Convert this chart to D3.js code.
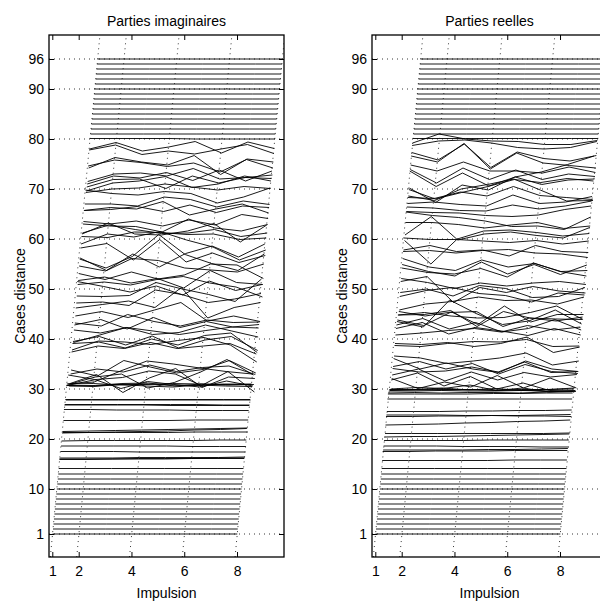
<!DOCTYPE html>
<html><head><meta charset="utf-8">
<script src="https://cdn.jsdelivr.net/npm/d3@7"></script>
<style>
html,body{margin:0;padding:0;background:#fff;}
text{font-family:"Liberation Sans",Arial,Helvetica,sans-serif;font-size:14px;fill:#000;}
</style></head>
<body><svg id="chart" width="600" height="604"></svg>
<script>
// ---------- data ----------
const pulses = [1, 2, 3, 4, 5, 6, 7, 8];
const xTickValues = [1, 2, 4, 6, 8];
const yTickValues = [1, 10, 20, 30, 40, 50, 60, 70, 80, 90, 96];
const panelTitles = ["Parties imaginaires", "Parties reelles"];
const xLabel = "Impulsion";
const yLabel = "Cases distance";

// one row per range cell (1..96), one value per pulse (displayed level)
const imagLines = [
[1,1,1,1,1,1,1,1],[2,2,2,2,2,2,2,2],[3,3,3,3,3,3,3,3],[4,4,4,4,4,4,4,4],
[5,5,5,5,5,5,5,5],[6,6,6,6,6,6,6,6],[7,7,7,7,7,7,7,7],[8,8,8,8,8,8,8,8],
[9,9,9,9,9,9,9,9],[10,10,10,10,10,10,10,10],[11,11,11,11,11,11,11,11],[12,12,12,12,12,12,12,12],
[13,13,13,13,13,13,13,13],[14.1,14.1,14.1,14.1,14.1,14.1,14.1,14.1],
[16.0,16.0,16.0,16.1,16.1,16.1,16.2,16.2],
[15.9,15.9,16.0,16.0,16.0,16.1,16.1,16.1],
[16.2,16.2,16.2,16.3,16.3,16.3,16.3,16.4],
[17.5,17.5,17.5,17.4,17.4,17.4,17.4,17.4],
[18.6,18.6,18.6,18.6,18.6,18.5,18.5,18.5],
[19.6,19.7,19.7,19.7,19.7,19.7,19.8,19.8],
[21.2,21.3,21.4,21.5,21.6,21.8,21.9,22.1],
[21.5,21.6,21.7,21.8,21.9,22.0,22.1,22.2],
[21.3,21.3,21.3,21.3,21.3,21.4,21.4,21.4],
[23.7,23.7,23.7,23.7,23.7,23.8,23.8,23.8],
[25.9,25.9,25.8,25.8,25.8,25.7,25.7,25.7],
[26.8,26.8,26.8,26.8,26.7,26.7,26.7,26.7],
[26.9,26.9,26.9,26.9,26.9,26.9,26.8,26.8],
[27.9,27.9,27.9,27.9,27.9,27.9,27.9,27.9],
[27.8,27.8,27.8,27.8,27.8,27.8,27.8,27.8],
[30.7,30.6,30.9,31.0,30.8,30.7,31.0,30.9],
[31.0,31.1,30.8,30.9,31.1,31.0,30.9,31.0],
[30.7,30.5,30.9,30.6,30.4,30.8,30.6,30.5],
[31.0,31.4,33.6,35.6,35.0,34.2,33.5,33.0],
[32.8,31.9,30.1,31.5,30.9,30.4,31.6,30.6],
[30.9,32.4,33.0,30.2,31.3,33.4,35.9,32.8],
[30.6,30.7,31.1,31.2,30.6,31.0,30.8,30.9],
[30.8,31.9,32.3,33.6,33.0,30.7,33.5,29.4],
[31.1,32.9,29.3,32.2,34.1,30.3,32.4,32.1],
[33.0,34.0,33.4,34.8,33.5,34.3,34.6,32.9],
[33.8,32.6,35.7,34.4,33.2,33.9,35.7,33.2],
[37.4,38.6,38.1,39.3,38.1,38.6,39.1,37.0],
[37.8,39.6,39.4,38.9,39.7,40.3,38.8,35.4],
[39.1,39.4,38.2,40.0,38.8,40.7,41.2,37.3],
[39.5,40.5,38.8,40.6,38.2,39.8,40.5,37.7],
[39.3,40.8,42.3,40.9,41.3,42.8,41.6,40.4],
[41.8,41.2,42.3,41.6,40.9,41.7,42.4,42.2],
[42.8,43.9,42.0,44.3,42.3,43.5,42.4,42.9],
[43.2,42.6,44.9,43.5,42.6,43.8,43.3,43.4],
[44.6,45.5,44.3,45.8,47.3,43.6,44.6,43.5],
[46.2,46.9,47.6,46.3,50.3,44.2,46.3,47.3],
[47.2,47.4,46.7,49.8,48.9,47.3,48.0,49.1],
[48.6,48.5,48.7,51.3,50.0,48.9,47.5,52.0],
[51.5,50.5,49.4,50.6,48.8,51.6,49.7,50.9],
[50.9,51.4,50.8,51.9,52.5,51.2,50.4,48.4],
[51.7,52.4,51.2,52.1,50.2,53.7,51.3,50.9],
[53.1,51.9,53.4,52.0,52.8,55.0,54.8,52.1],
[54.6,53.6,56.1,55.7,54.2,53.8,53.4,55.0],
[56.0,54.2,56.5,60.9,56.9,55.1,53.7,57.0],
[56.2,53.7,57.0,54.4,57.1,58.6,56.4,59.0],
[58.2,59.1,55.8,59.9,55.4,57.2,55.3,56.7],
[59.0,61.0,60.4,61.5,59.8,58.4,55.8,57.8],
[60.5,60.3,61.4,61.3,60.9,61.0,59.9,60.2],
[61.0,63.2,61.0,60.8,61.6,63.1,59.4,62.8],
[61.2,62.8,61.9,61.1,61.2,61.9,60.5,61.2],
[63.0,62.6,62.5,61.4,64.0,62.2,61.6,62.9],
[63.5,63.0,63.6,62.6,63.8,62.8,64.9,64.1],
[65.7,66.3,66.0,67.5,64.8,66.0,67.0,65.2],
[65.7,65.9,66.5,65.5,66.8,65.3,66.6,66.3],
[67.0,67.0,66.6,68.4,67.9,66.4,67.6,66.9],
[69.8,69.1,68.8,69.5,69.1,67.2,68.4,70.2],
[69.3,70.0,70.2,71.0,70.4,69.8,70.5,70.1],
[69.6,71.2,71.6,72.5,70.3,71.0,72.6,71.6],
[70.4,71.9,72.0,70.1,72.6,71.2,72.3,72.1],
[71.0,72.6,72.2,73.3,71.7,73.8,71.6,73.6],
[71.5,73.0,73.2,72.6,74.1,72.0,72.3,72.8],
[74.6,75.8,75.3,74.5,75.2,73.4,75.9,74.2],
[74.2,76.3,75.4,74.8,76.7,72.9,76.0,75.4],
[77.8,78.8,76.9,77.6,77.0,78.0,78.9,77.1],
[78.0,79.3,77.6,78.4,79.5,77.2,79.4,78.1],
[80.1,80.1,80.1,80.1,80.0,80.0,80.0,80.0],
[81,81,81,81,81,81,81,81],[82,82,82,82,82,82,82,82],[83,83,83,83,83,83,83,83],
[84,84,84,84,84,84,84,84],[85,85,85,85,85,85,85,85],[86,86,86,86,86,86,86,86],
[87,87,87,87,87,87,87,87],[88,88,88,88,88,88,88,88],[89,89,89,89,89,89,89,89],
[90,90,90,90,90,90,90,90],[91,91,91,91,91,91,91,91],[92,92,92,92,92,92,92,92],
[93,93,93,93,93,93,93,93],[94,94,94,94,94,94,94,94],[95,95,95,95,95,95,95,95],
[96,96,96,96,96,96,96,96]
];

const realLines = [
[1,1,1,1,1,1,1,1],[2,2,2,2,2,2,2,2],[3,3,3,3,3,3,3,3],[4,4,4,4,4,4,4,4],
[5,5,5,5,5,5,5,5],[6,6,6,6,6,6,6,6],[7,7,7,7,7,7,7,7],[8,8,8,8,8,8,8,8],
[9,9,9,9,9,9,9,9],[10,10,10,10,10,10,10,10],[11,11,11,11,11,11,11,11],[12,12,12,12,12,12,12,12],
[13,13,13,13,13,13,13,13],[14.1,14.1,14.1,14.1,14.1,14.1,14.1,14.1],
[15.7,15.7,15.7,15.7,15.7,15.8,15.8,15.8],
[17.5,17.5,17.6,17.6,17.6,17.7,17.7,17.7],
[17.8,17.8,17.8,17.8,17.9,17.9,18.0,18.1],
[18.6,18.6,18.6,18.5,18.5,18.5,18.4,18.4],
[19.7,19.7,19.7,19.7,19.8,19.8,19.8,19.8],
[20.4,20.5,20.5,20.6,20.7,20.8,20.9,21.0],
[21.1,21.1,21.1,21.1,21.1,21.1,21.1,21.2],
[22.8,22.9,23.0,23.2,23.3,23.5,23.6,23.8],
[24.5,24.5,24.6,24.6,24.7,24.7,24.8,24.9],
[24.8,24.8,24.8,24.7,24.7,24.6,24.6,24.5],
[25.5,25.5,25.5,25.6,25.6,25.7,25.7,25.8],
[28.0,28.0,28.0,28.0,28.0,28.0,28.0,28.0],
[29.0,29.0,29.0,29.0,29.1,29.1,29.2,29.2],
[29.2,29.3,29.2,29.3,29.3,29.2,29.4,29.5],
[29.6,29.6,29.7,29.6,29.6,29.7,29.6,29.6],
[29.9,29.9,29.8,29.9,29.8,29.9,29.9,30.0],
[29.7,29.9,30.2,29.8,30.1,29.7,29.9,30.2],
[29.8,29.8,29.9,29.9,29.7,29.8,29.5,29.6],
[30.0,30.3,30.1,30.8,29.7,30.2,29.4,29.7],
[31.8,33.2,30.6,32.5,30.0,31.2,29.7,29.5],
[32.1,30.1,31.4,30.4,32.7,30.2,32.2,30.2],
[32.8,34.0,31.6,33.4,31.8,33.3,32.4,32.9],
[34.1,33.4,33.6,34.4,33.4,35.4,33.3,33.5],
[34.5,35.5,34.0,35.1,33.0,34.9,33.5,33.1],
[36.1,34.0,35.2,34.0,33.3,35.6,34.0,33.5],
[36.6,36.2,35.1,35.6,36.2,37.2,34.8,35.6],
[38.7,38.5,39.1,39.5,39.4,39.9,38.5,38.6],
[39.1,38.9,39.3,38.5,39.1,40.4,37.3,38.4],
[40.8,41.2,41.7,42.1,41.4,42.7,41.8,42.4],
[42.1,43.3,41.0,42.3,41.6,40.7,42.1,40.8],
[42.8,44.1,42.0,43.3,41.4,42.1,43.9,41.8],
[43.5,42.4,47.8,45.1,42.9,43.6,45.8,43.0],
[43.8,42.7,45.3,45.5,42.5,44.2,44.0,43.9],
[44.8,44.9,45.7,42.5,45.5,44.2,43.6,44.4],
[44.8,45.3,44.6,44.2,44.3,45.3,46.6,43.9],
[45.5,44.6,45.4,42.9,46.6,43.4,44.9,44.9],
[45.8,47.0,47.5,48.4,47.7,47.8,47.0,48.4],
[48.5,49.7,50.3,49.1,48.7,47.4,49.2,48.8],
[49.3,50.0,48.6,50.7,50.1,48.3,48.5,50.3],
[51.5,52.5,47.3,50.3,49.3,50.5,49.6,49.2],
[52.1,51.3,50.1,51.2,50.6,51.2,51.5,50.9],
[54.2,53.3,53.0,54.1,52.4,55.2,53.5,52.6],
[54.9,53.5,52.6,55.4,53.0,54.9,52.9,54.8],
[56.1,54.4,53.7,55.8,54.4,55.1,53.5,53.7],
[57.5,57.7,57.2,57.7,57.9,57.2,57.0,56.3],
[57.8,58.7,57.5,57.8,56.6,58.7,57.5,57.3],
[60.2,59.9,59.9,59.6,59.3,59.7,59.0,59.6],
[59.7,55.0,60.0,61.6,61.8,61.3,60.6,61.1],
[60.8,64.5,59.8,61.0,61.4,60.7,60.2,62.3],
[63.3,63.3,62.9,62.2,62.8,63.3,62.1,62.6],
[65.4,64.7,64.3,63.6,62.5,62.6,61.9,64.4],
[65.5,65.3,65.2,64.7,64.5,64.8,65.9,66.6],
[66.4,66.2,65.7,65.6,66.8,66.0,66.6,67.6],
[67.1,67.4,66.9,66.6,68.8,67.1,67.4,68.5],
[68.3,68.1,69.4,68.6,70.5,68.7,68.3,67.9],
[68.6,67.7,70.0,70.9,72.0,69.8,67.6,67.7],
[69.9,68.0,69.3,70.5,71.9,71.3,72.1,71.6],
[70.2,67.3,70.8,69.8,72.4,73.4,74.9,76.6],
[73.6,70.5,73.2,70.6,72.4,70.9,71.8,72.0],
[73.9,71.2,74.2,71.9,73.8,71.9,73.0,72.5],
[74.8,73.6,75.4,73.6,73.6,73.2,74.4,73.3],
[76.6,75.4,79.1,74.0,77.2,75.2,74.7,74.2],
[77.3,75.8,79.0,74.3,77.4,76.1,75.6,76.7],
[78.7,79.6,79.8,79.2,78.3,78.0,78.3,79.5],
[79.2,81.0,80.0,79.6,79.5,78.9,78.9,79.7],
[80.1,80.1,80.1,80.1,80.1,80.1,80.1,80.1],
[81,81,81,81,81,81,81,81],[82,82,82,82,82,82,82,82],[83,83,83,83,83,83,83,83],
[84,84,84,84,84,84,84,84],[85,85,85,85,85,85,85,85],[86,86,86,86,86,86,86,86],
[87,87,87,87,87,87,87,87],[88,88,88,88,88,88,88,88],[89,89,89,89,89,89,89,89],
[90,90,90,90,90,90,90,90],[91,91,91,91,91,91,91,91],[92,92,92,92,92,92,92,92],
[93,93,93,93,93,93,93,93],[94,94,94,94,94,94,94,94],[95,95,95,95,95,95,95,95],
[96,96,96,96,96,96,96,96]
];

// ---------- drawing ----------
const svg = d3.select("#chart");
const skew = 0.018;            // horizontal drift of the 3-D view per range cell
const xDomain = [0.875, 9.78];
const yDomain = [-3.6, 100.8];
const panels = [
  {title: panelTitles[0], lines: imagLines, left: 49, labelX: 25},
  {title: panelTitles[1], lines: realLines, left: 372, labelX: 347}
];
const plotTop = 35, plotBottom = 557, plotW = 235;
const fontFamily = '"Liberation Sans",Arial,sans-serif';

panels.forEach((p, pi) => {
  const x = d3.scaleLinear().domain(xDomain).range([p.left, p.left + plotW]);
  const y = d3.scaleLinear().domain(yDomain).range([plotBottom, plotTop]);
  const g = svg.append("g");
  const clipId = "clip" + pi;
  svg.append("clipPath").attr("id", clipId).append("rect")
    .attr("x", p.left).attr("y", plotTop).attr("width", plotW).attr("height", plotBottom - plotTop);
  const plot = g.append("g").attr("clip-path", `url(#${clipId})`);

  plot.selectAll(".hg").data(yTickValues).join("line")
    .attr("x1", p.left).attr("x2", p.left + plotW)
    .attr("y1", d => y(d)).attr("y2", d => y(d))
    .attr("stroke", "#000").attr("stroke-width", 0.8).attr("stroke-dasharray", "1,4");
  plot.selectAll(".vg").data(xTickValues).join("line")
    .attr("x1", d => x(d + skew * (yDomain[0] - 0.5))).attr("y1", y(yDomain[0]))
    .attr("x2", d => x(d + skew * (yDomain[1] - 0.5))).attr("y2", y(yDomain[1]))
    .attr("stroke", "#000").attr("stroke-width", 0.8).attr("stroke-dasharray", "1,4");

  plot.selectAll(".ln").data(p.lines).join("path")
    .attr("fill", "none").attr("stroke", "#000").attr("stroke-width", 0.9)
    .attr("d", (row, ci) => d3.line()
      .x((v, i) => x(pulses[i] + skew * (ci + 1 - 0.5)))
      .y(v => y(v))(row));

  const ax = g.append("g").attr("transform", `translate(${p.left},0)`)
    .call(d3.axisLeft(y).tickValues(yTickValues).tickSize(-5).tickPadding(5).tickFormat(d3.format("d")));
  const axR = g.append("g").attr("transform", `translate(${p.left + plotW},0)`)
    .call(d3.axisRight(y).tickValues(yTickValues).tickSize(-5).tickFormat(""));
  const axB = g.append("g").attr("transform", `translate(0,${plotBottom})`)
    .call(d3.axisBottom(x).tickValues(xTickValues).tickSize(-5).tickPadding(9).tickFormat(d3.format("d")));
  const axT = g.append("g").attr("transform", `translate(0,${plotTop})`)
    .call(d3.axisTop(x).tickValues(xTickValues).tickSize(-5).tickFormat(""));
  [ax, axR, axB, axT].forEach(a => {
    a.select(".domain").remove();
    a.selectAll("line").attr("stroke", "#000");
    a.selectAll("text").attr("font-size", 14).attr("font-family", fontFamily);
  });

  g.append("rect").attr("x", p.left).attr("y", plotTop).attr("width", plotW).attr("height", plotBottom - plotTop)
    .attr("fill", "none").attr("stroke", "#000").attr("stroke-width", 1.3);

  g.append("text").attr("x", p.left + plotW / 2).attr("y", 26).attr("text-anchor", "middle").text(p.title);
  g.append("text").attr("x", p.left + plotW / 2).attr("y", 598).attr("text-anchor", "middle").text(xLabel);
  g.append("text").attr("transform", `translate(${p.labelX},${(plotTop + plotBottom) / 2}) rotate(-90)`)
    .attr("text-anchor", "middle").text(yLabel);
});
</script></body></html>
